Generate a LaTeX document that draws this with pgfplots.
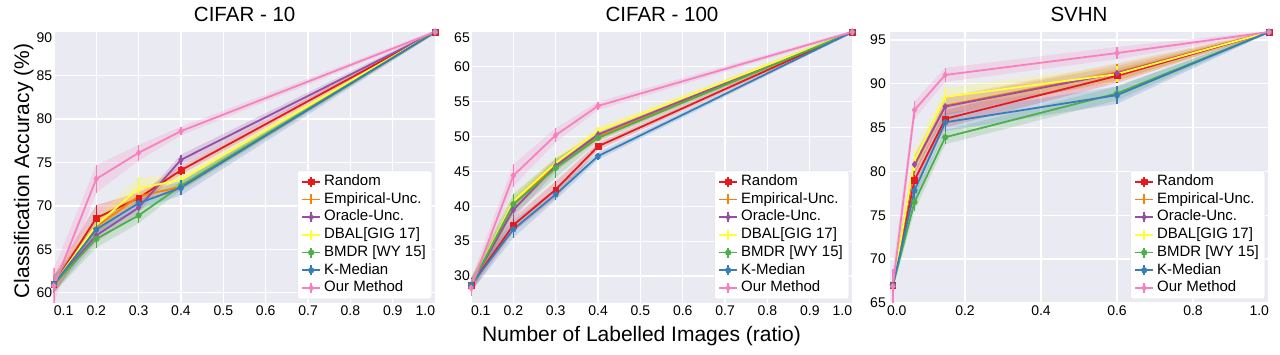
\documentclass[border=0pt]{standalone}
\usepackage{fontspec}
\setmainfont{Liberation Sans}
\usepackage{pgfplots}
\usepackage{pgfplotstable}
\pgfplotsset{compat=1.18}
\usepgfplotslibrary{fillbetween}
\usetikzlibrary{plotmarks}

\definecolor{cR}{HTML}{E41A1C}
\definecolor{cE}{HTML}{FF7F00}
\definecolor{cO}{HTML}{984EA3}
\definecolor{cD}{HTML}{FFFF33}
\definecolor{cB}{HTML}{4DAF4A}
\definecolor{cK}{HTML}{377EB8}
\definecolor{cM}{HTML}{F781BF}
\definecolor{sbbg}{HTML}{EAEAF2}

% ---------------- CIFAR-10 ----------------
\pgfplotstableread{
x y e
0.1 61.0 1.0
0.2 68.6 1.5
0.3 70.9 0.6
0.4 74.1 0.5
1.0 90.0 0.2
}\aR
\pgfplotstableread{
x y e
0.1 61.0 1.0
0.2 67.6 0.8
0.3 71.1 0.6
0.4 72.2 0.5
1.0 90.0 0.2
}\aE
\pgfplotstableread{
x y e
0.1 61.0 1.0
0.2 66.6 0.8
0.3 69.8 0.6
0.4 75.3 0.6
1.0 90.0 0.2
}\aO
\pgfplotstableread{
x y e
0.1 61.0 1.0
0.2 67.8 0.9
0.3 72.0 1.3
0.4 73.0 0.6
1.0 90.0 0.2
}\aD
\pgfplotstableread{
x y e
0.1 61.0 1.0
0.2 66.2 1.0
0.3 68.9 0.9
0.4 72.3 0.5
1.0 90.0 0.2
}\aB
\pgfplotstableread{
x y e
0.1 61.0 1.0
0.2 67.3 0.8
0.3 70.3 0.7
0.4 72.1 0.9
1.0 90.0 0.2
}\aK
\pgfplotstableread{
x y e
0.1 60.8 2.0
0.2 73.1 1.6
0.3 76.1 0.9
0.4 78.6 0.5
1.0 90.0 0.2
}\aM

% ---------------- CIFAR-100 ----------------
\pgfplotstableread{
x y e
0.1 28.7 1.0
0.2 37.3 1.0
0.3 42.4 1.2
0.4 48.6 0.5
1.0 65.0 0.2
}\bR
\pgfplotstableread{
x y e
0.1 28.7 1.0
0.2 40.2 1.0
0.3 46.0 0.8
0.4 50.0 0.6
1.0 65.0 0.2
}\bE
\pgfplotstableread{
x y e
0.1 28.7 1.0
0.2 39.5 1.3
0.3 45.8 0.8
0.4 50.3 0.6
1.0 65.0 0.2
}\bO
\pgfplotstableread{
x y e
0.1 28.7 1.0
0.2 40.7 1.0
0.3 46.2 0.9
0.4 50.8 0.6
1.0 65.0 0.2
}\bD
\pgfplotstableread{
x y e
0.1 28.7 1.0
0.2 40.3 1.5
0.3 45.5 1.4
0.4 49.8 0.5
1.0 65.0 0.2
}\bB
\pgfplotstableread{
x y e
0.1 28.7 1.0
0.2 36.7 1.2
0.3 41.7 0.8
0.4 47.2 0.5
1.0 65.0 0.2
}\bK
\pgfplotstableread{
x y e
0.1 28.3 1.2
0.2 44.4 1.6
0.3 50.2 1.0
0.4 54.4 0.6
1.0 65.0 0.2
}\bM

% ---------------- SVHN ----------------
\pgfplotstableread{
x y e
0.01 67.0 0.5
0.067 79.0 1.0
0.148 86.0 1.0
0.6 90.9 0.8
1.0 95.9 0.1
}\cR
\pgfplotstableread{
x y e
0.01 67.0 0.5
0.067 80.6 1.0
0.148 87.5 1.0
0.6 91.3 1.0
1.0 95.9 0.1
}\cE
\pgfplotstableread{
x y e
0.01 67.0 0.5
0.067 80.8 1.0
0.148 87.4 1.0
0.6 91.2 0.8
1.0 95.9 0.1
}\cO
\pgfplotstableread{
x y e
0.01 67.0 0.5
0.067 81.2 1.2
0.148 88.5 1.1
0.6 91.1 0.9
1.0 95.9 0.1
}\cD
\pgfplotstableread{
x y e
0.01 67.0 0.5
0.067 76.5 1.0
0.148 83.9 0.8
0.6 88.9 0.8
1.0 95.9 0.1
}\cB
\pgfplotstableread{
x y e
0.01 67.0 0.5
0.067 77.8 1.0
0.148 85.6 1.0
0.6 88.7 1.0
1.0 95.9 0.1
}\cK
\pgfplotstableread{
x y e
0.01 66.9 2.0
0.067 87.0 1.0
0.148 91.0 0.8
0.6 93.5 0.7
1.0 95.9 0.1
}\cM

\newcommand{\band}[3]{%
  \addplot[name path=u#3, draw=none, forget plot] table[x=x, y expr=\thisrow{y}+\thisrow{e}] {#1};
  \addplot[name path=l#3, draw=none, forget plot] table[x=x, y expr=\thisrow{y}-\thisrow{e}] {#1};
  \addplot[fill=#2, fill opacity=0.2, draw=none, forget plot] fill between[of=u#3 and l#3];
}
\newcommand{\ser}[3]{%
  \addplot[color=#2, line width=1.8pt, #3,
    error bars/y dir=both, error bars/y explicit, error bars/error mark=none,
    error bars/error bar style={line width=1.5pt}]
    table[x=x, y=y, y error=e] {#1};
}
% #1 id prefix, #2..#8 tables R E O D B K M
\newcommand{\allseries}[8]{%
  \band{#2}{cR}{#1R}
  \band{#3}{cE}{#1E}
  \band{#4}{cO}{#1O}
  \band{#5}{cD}{#1D}
  \band{#6}{cB}{#1B}
  \band{#7}{cK}{#1K}
  \band{#8}{cM}{#1M}
  \ser{#2}{cR}{mark=square*, mark size=2.8pt, mark options={solid, line width=0.5pt}}
  \ser{#3}{cE}{mark=none}
  \ser{#4}{cO}{mark=diamond*, mark size=3.2pt, mark options={solid, line width=0.5pt}}
  \ser{#5}{cD}{mark=none}
  \ser{#6}{cB}{mark=*, mark size=2.8pt, mark options={solid, line width=0.5pt}}
  \ser{#7}{cK}{mark=pentagon*, mark size=3pt, mark options={solid, line width=0.5pt}}
  \ser{#8}{cM}{mark=diamond*, mark size=3.2pt, mark options={solid, line width=0.5pt}}
}

\pgfplotsset{
  sb/.style={
    scale only axis, height=271pt,
    axis background/.style={fill=sbbg},
    axis line style={draw=none},
    major tick length=0pt,
    tick style={draw=none},
    grid=major,
    major grid style={white, line width=1.3pt},
    tick label style={font=\fontsize{14}{16}\selectfont},
    /pgf/number format/assume math mode=true,
    xticklabel style={inner sep=0pt, yshift=-3pt},
    yticklabel style={inner sep=0pt, xshift=-1pt},
    title style={font=\fontsize{20.5}{24}\selectfont, at={(0.5,1)}, anchor=base, yshift=4.5pt},
    legend style={at={(1,0)}, anchor=south east, xshift=-4pt, yshift=4pt,
      fill=white, draw=white!88!black, rounded corners=2pt,
      font=\fontsize{15}{17}\selectfont, inner xsep=4pt, inner ysep=2pt,
      row sep=0pt,
      nodes={inner sep=2pt, text height=10.7pt, text depth=3pt},
      /tikz/every odd column/.append style={column sep=1pt}},
    legend cell align=left,
    legend image code/.code={
      \draw[##1, mark=none] (0pt,0pt) -- (18pt,0pt);
      \draw[##1, mark=none, line width=1.5pt] (9pt,-5pt) -- (9pt,5pt);
      \draw[##1] plot coordinates {(9pt,0pt)};
    },
    legend entries={Random, Empirical-Unc., Oracle-Unc., DBAL[GIG 17], BMDR [WY 15], K-Median, Our Method},
  }
}

\begin{document}
\begin{tikzpicture}
\path (0,0) rectangle (1280pt,355pt);

\begin{axis}[sb, at={(53.3pt,52pt)}, anchor=south west, width=382.7pt,
  title={CIFAR - 10},
  xmin=0.0986, xmax=1.002, ymin=58.83, ymax=90.0,
  xtick={0.1,0.2,0.3,0.4,0.5,0.6,0.7,0.8,0.9,1.0},
  xticklabels={\makebox[0pt][l]{0.1},0.2,0.3,0.4,0.5,0.6,0.7,0.8,0.9,\makebox[0pt][r]{1.0}},
  ytick={60,65,70,75,80,85},
  extra y ticks={90},
  extra y tick style={grid=none, yticklabel style={yshift=-6pt}},
  ylabel={Classification Accuracy (\%)},
  ylabel style={font=\fontsize{21}{24}\selectfont, at={(axis description cs:-0.0773,0.487)}, anchor=center},
]
\allseries{a}{\aR}{\aE}{\aO}{\aD}{\aB}{\aK}{\aM}
\end{axis}

\begin{axis}[sb, at={(471pt,52pt)}, anchor=south west, width=382pt,
  title={CIFAR - 100},
  xmin=0.1, xmax=1.002, ymin=26.13, ymax=65.0,
  xtick={0.1,0.2,0.3,0.4,0.5,0.6,0.7,0.8,0.9,1.0},
  xticklabels={\makebox[0pt][l]{0.1},0.2,0.3,0.4,0.5,0.6,0.7,0.8,0.9,\makebox[0pt][r]{1.0}},
  ytick={30,35,40,45,50,55,60},
  extra y ticks={65},
  extra y tick style={grid=none, yticklabel style={yshift=-6pt}},
  xlabel={Number of Labelled Images (ratio)},
  xlabel style={font=\fontsize{21}{24}\selectfont, at={(axis description cs:0.4463,-0.1428)}, anchor=base},
]
\allseries{b}{\bR}{\bE}{\bO}{\bD}{\bB}{\bK}{\bM}
\end{axis}

\begin{axis}[sb, at={(889pt,52pt)}, anchor=south west, width=380pt,
  title={SVHN},
  xmin=0, xmax=1.0, ymin=65, ymax=95.9,
  xtick={0,0.2,0.4,0.6,0.8,1.0},
  xticklabels={\makebox[0pt][l]{\hspace*{-2pt}0.0},0.2,0.4,0.6,0.8,\makebox[0pt][r]{1.0}},
  ytick={65,70,75,80,85,90,95},
  yticklabel style={xshift=-2pt},
]
\allseries{c}{\cR}{\cE}{\cO}{\cD}{\cB}{\cK}{\cM}
\end{axis}
\end{tikzpicture}
\end{document}
